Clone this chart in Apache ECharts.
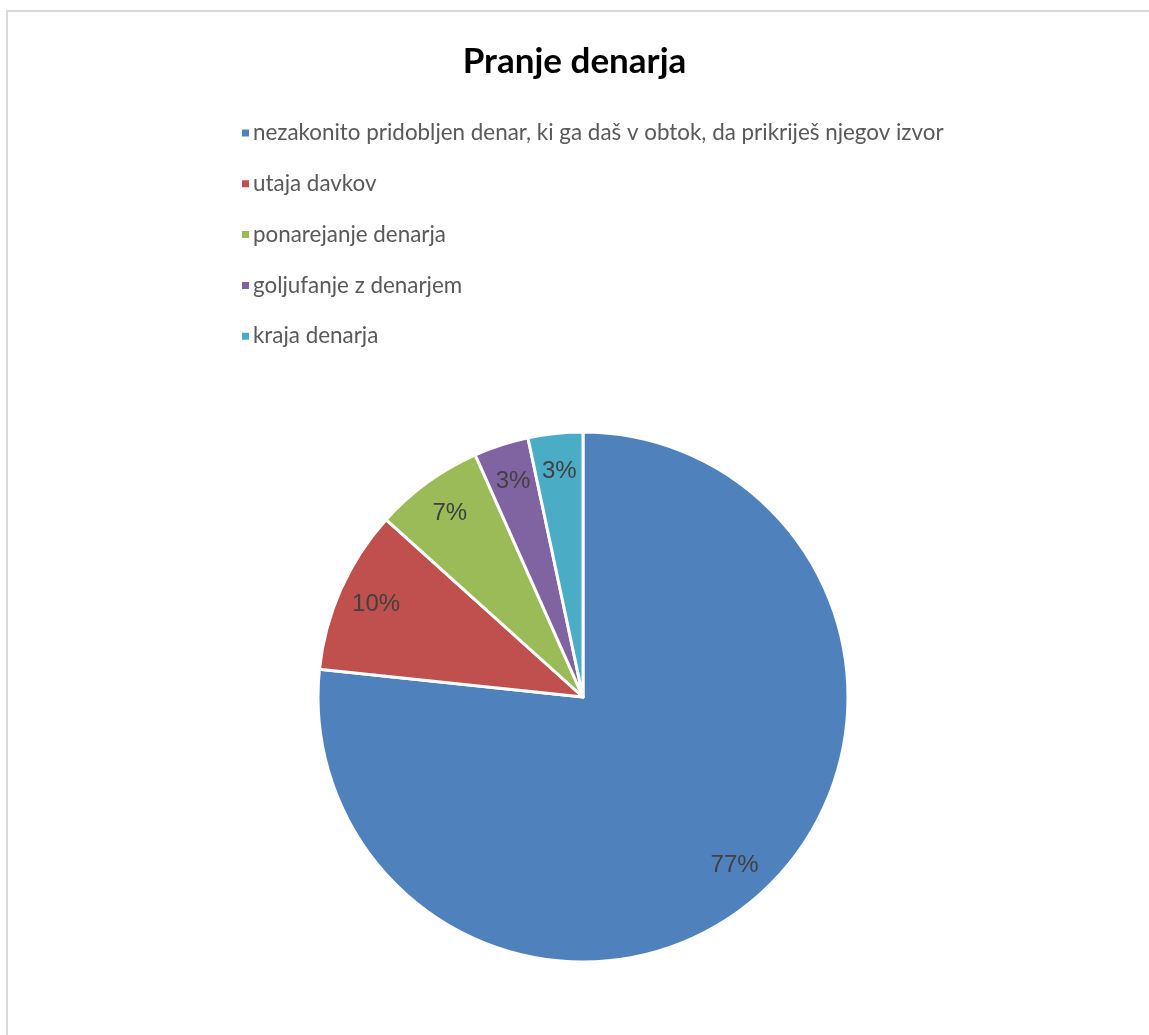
<!DOCTYPE html>
<html><head><meta charset="utf-8">
<script src="https://cdn.jsdelivr.net/npm/echarts@6/dist/echarts.min.js"></script>
<style>
html,body{margin:0;padding:0;background:#fff;}
#frame{position:absolute;left:6px;top:10px;width:1143px;height:1025px;border-left:2px solid #d9d9d9;border-top:2px solid #d9d9d9;box-sizing:border-box;}
#chart{position:absolute;left:0;top:0;width:1149px;height:1035px;}
</style></head>
<body>
<div id="frame"></div>
<div id="chart"></div>
<script>
const title = 'Pranje denarja';
const categories = [
  'nezakonito pridobljen denar, ki ga daš v obtok, da prikriješ njegov izvor',
  'utaja davkov',
  'ponarejanje denarja',
  'goljufanje z denarjem',
  'kraja denarja'
];
const values = [23, 3, 2, 1, 1];
const colors = ['#4F81BD', '#C0504D', '#9BBB59', '#8064A2', '#4BACC6'];

const data = categories.map((c, i) => ({ name: c, value: values[i], itemStyle: { color: colors[i] } }));
const total = values.reduce((a, b) => a + b, 0);

const chart = echarts.init(document.getElementById('chart'), null, { renderer: 'canvas' });
chart.setOption({
  animation: false,
  title: {
    text: title, left: 'center', top: 39,
    textStyle: { fontFamily: 'Lato', fontWeight: 'bold', fontSize: 35, color: '#000' }
  },
  legend: {
    orient: 'vertical', left: 235, top: 117,
    itemWidth: 9, itemHeight: 9, itemGap: 28.8,
    icon: 'rect',
    data: categories,
    textStyle: { fontFamily: 'Lato', fontSize: 22.4, color: '#595959', lineHeight: 22, padding: [0, 0, 0, -2] }
  },
  series: [
    {
      type: 'pie', center: [583, 697], radius: [0, 265],
      startAngle: 90, clockwise: true,
      itemStyle: { borderColor: '#fff', borderWidth: 3 },
      label: { show: false }, labelLine: { show: false },
      emphasis: { disabled: true },
      data: data
    },
    {
      type: 'pie', center: [583, 697], radius: [182, 265],
      startAngle: 90, clockwise: true, silent: true,
      itemStyle: { color: 'rgba(0,0,0,0)', borderWidth: 0 },
      label: {
        show: true, position: 'inside',
        fontFamily: 'Liberation Sans', fontSize: 24, color: '#404040',
        formatter: p => Math.round(p.value / total * 100) + '%'
      },
      labelLine: { show: false },
      emphasis: { disabled: true },
      data: categories.map((c, i) => ({ name: c, value: values[i] }))
    }
  ]
});
</script>
</body></html>
